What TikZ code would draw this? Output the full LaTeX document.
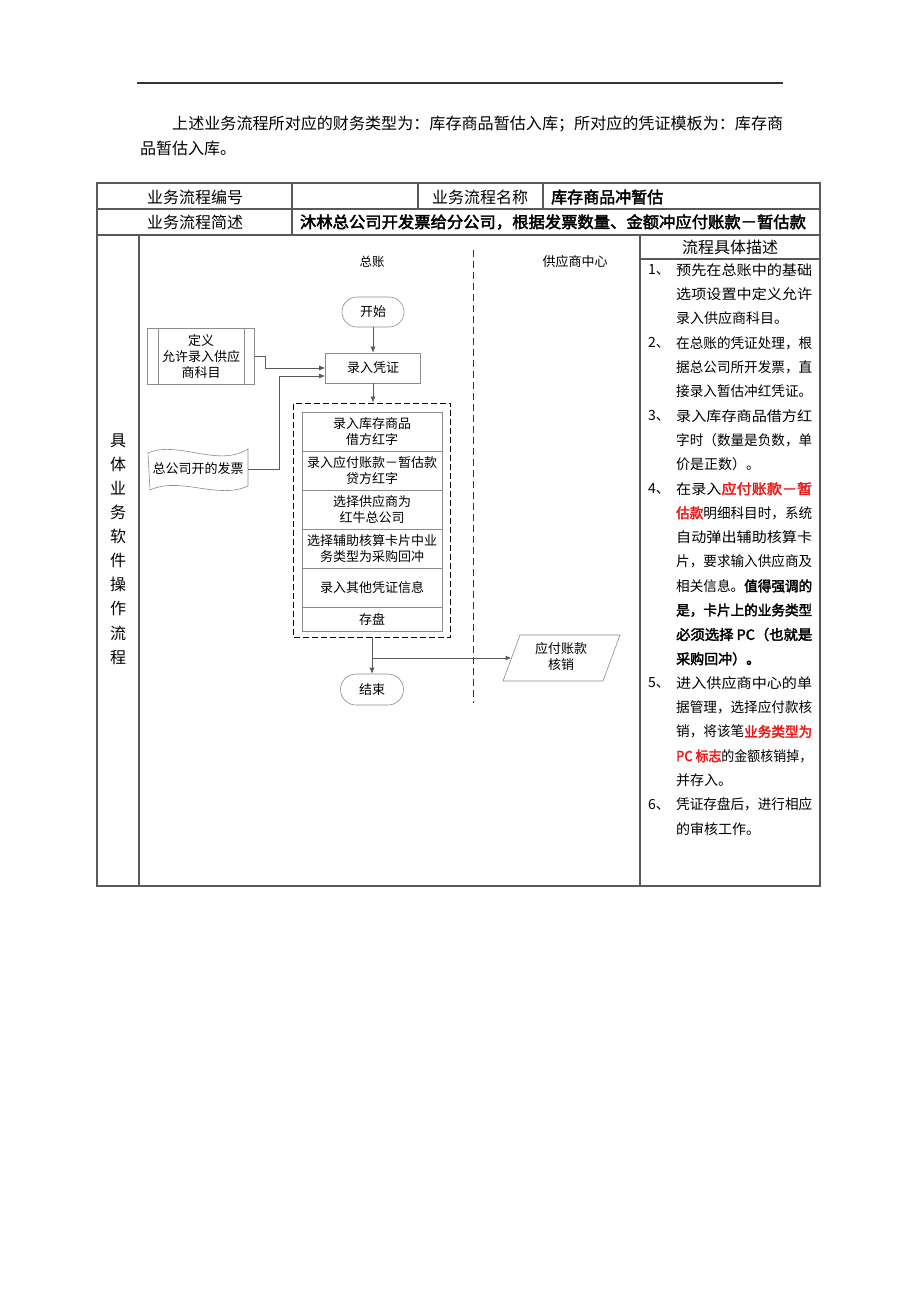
\documentclass[tikz,border=0pt]{standalone}
\usepackage{fontspec}
\usepackage{graphicx}
\setmainfont{Noto Sans CJK SC}[BoldFont={Noto Sans CJK SC},BoldFeatures={FakeBold=2.5}]
\usetikzlibrary{arrows.meta}
\definecolor{tline}{gray}{0.35}
\definecolor{shp}{gray}{0.55}
\definecolor{hired}{RGB}{235,25,25}
\newcommand\jl[1]{\resizebox{136pt}{\height}{#1}}
\newcommand\rb[1]{\textcolor{hired}{\bfseries #1}}
\begin{document}
\begin{tikzpicture}[x=1pt,y=-1pt,
  tbl/.style={draw=tline,line width=1.1pt},
  ttxt/.style={inner sep=0,font=\fontsize{16}{16}\selectfont},
  fshape/.style={draw=shp,line width=0.6pt,font=\fontsize{13}{16}\selectfont,align=center,inner sep=0},
  ftxt/.style={inner sep=0,font=\fontsize{13}{16}\selectfont,align=center},
  conn/.style={draw=tline,line width=0.7pt,-{Latex[length=6pt,width=5pt]}},
  desc/.style={anchor=west,inner sep=0,font=\fontsize{14}{14}\selectfont},
  num/.style={anchor=west,inner sep=0,font=\fontsize{14}{14}\selectfont}]
\fill[white] (0,0) rectangle (920,1302);
\useasboundingbox (0,0) rectangle (920,1302);
% top rule
\draw[line width=1.2pt,black!80] (137,83) -- (783,83);
\node[ttxt,anchor=west] (p1) at (172,124) {\resizebox{611pt}{\height}{上述业务流程所对应的财务类型为：库存商品暂估入库；所对应的凭证模板为：库存商}};
\node[ttxt,anchor=west] (p2) at (140,148) {品暂估入库。};
% table
\draw[tbl] (97,183) rectangle (820,886);
\draw[tbl] (97,209) -- (820,209);
\draw[tbl] (97,235) -- (820,235);
\draw[tbl] (292,183) -- (292,235);
\draw[tbl] (418,183) -- (418,209);
\draw[tbl] (543,183) -- (543,209);
\draw[tbl] (139,235) -- (139,886);
\draw[tbl] (640,235) -- (640,886);
\draw[tbl] (640,259) -- (820,259);
\node[ttxt] (r1a) at (195,197) {业务流程编号};
\node[ttxt] (r1b) at (480,197) {业务流程名称};
\node[ttxt,anchor=west] (r1c) at (551,197) {\bfseries 库存商品冲暂估};
\node[ttxt] (r2a) at (195,222) {业务流程简述};
\node[ttxt] (r2b) at (553,222) {\resizebox{506pt}{\height}{\bfseries 沐林总公司开发票给分公司，根据发票数量、金额冲应付账款－暂估款}};
\node[inner sep=0,font=\fontsize{16}{24.1}\selectfont,align=center] (side) at (118,549) {具\\体\\业\\务\\软\\件\\操\\作\\流\\程};
\node[ttxt] (hdr) at (730,247) {流程具体描述};
% lanes
\node[ftxt,font=\fontsize{12.5}{15}\selectfont] (lane1) at (372,262) {总账};
\node[ftxt] (lane2) at (575,262) {供应商中心};
\draw[black!80,line width=0.8pt,dash pattern=on 7pt off 4pt] (473,250) -- (473,703);
% shapes
\node[fshape,rounded corners=15pt,minimum width=62pt,minimum height=30pt] (start) at (373,312) {开始};
\node[fshape,minimum width=95pt,minimum height=30pt] (voucher) at (373,368) {录入凭证};
\node[fshape,minimum width=107pt,minimum height=56pt] (def) at (201,356) {定义\\允许录入供应\\商科目};
\draw[shp,line width=0.6pt] ([xshift=11pt]def.north west) -- ([xshift=11pt]def.south west);
\draw[shp,line width=0.6pt] ([xshift=-11pt]def.north east) -- ([xshift=-11pt]def.south east);
\node[ftxt,minimum width=100pt,minimum height=40pt] (inv) at (198,469) {总公司开的发票};
\draw[shp,line width=0.6pt] (148,453) .. controls (178,440) and (218,468) .. (248,449)
  -- (248,486) .. controls (218,500) and (180,476) .. (150,490) -- cycle;
\node[draw=black,line width=0.8pt,dash pattern=on 6pt off 3pt,minimum width=157pt,minimum height=234pt,inner sep=0] (grp) at (372,520) {};
\node[fshape,minimum width=140pt,minimum height=39pt] (b1) at (372,431.5) {录入库存商品\\借方红字};
\node[fshape,minimum width=140pt,minimum height=39pt] (b2) at (372,470.5) {录入应付账款－暂估款\\贷方红字};
\node[fshape,minimum width=140pt,minimum height=39pt] (b3) at (372,509.5) {选择供应商为\\红牛总公司};
\node[fshape,minimum width=140pt,minimum height=39pt] (b4) at (372,548.5) {选择辅助核算卡片中业\\务类型为采购回冲};
\node[fshape,minimum width=140pt,minimum height=39pt] (b5) at (372,587.5) {录入其他凭证信息};
\node[fshape,minimum width=140pt,minimum height=24pt] (b6) at (372,619) {存盘};
\node[fshape,rounded corners=15.5pt,minimum width=63pt,minimum height=31pt] (end) at (372,689.5) {结束};
\draw[shp,line width=0.6pt] (503,681) -- (520,635) -- (620,635) -- (603,681) -- cycle;
\node[ftxt] (pay) at (561,657) {应付账款\\核销};
\coordinate (payl) at (511.5,658);
% connectors
\draw[conn] (start) -- (voucher);
\draw[conn] (def.east) -- ++(11,0) |- (voucher.west);
\draw[conn,line width=1pt] (inv.east) -- (279,469) |- ([yshift=-8pt]voucher.west);
\draw[conn] (voucher.south) -- (voucher.south |- grp.north);
\draw[conn] (grp.south) -- (end.north);
\draw[conn,line width=1pt] (grp.south |- payl) -- (payl);
% description
\node[num] (n1) at (648,270) {1、};
\node[desc] (d1) at (676,270) {\jl{预先在总账中的基础}};
\node[desc] (d2) at (676,294.3) {\jl{选项设置中定义允许}};
\node[desc] (d3) at (676,318.6) {录入供应商科目。};
\node[num] (n2) at (648,342.9) {2、};
\node[desc] (d4) at (676,342.9) {\jl{在总账的凭证处理，根}};
\node[desc] (d5) at (676,367.2) {\jl{据总公司所开发票，直}};
\node[desc] (d6) at (676,391.5) {\jl{接录入暂估冲红凭证。}};
\node[num] (n3) at (648,415.8) {3、};
\node[desc] (d7) at (676,415.8) {\jl{录入库存商品借方红}};
\node[desc] (d8) at (676,440.1) {\jl{字时（数量是负数，单}};
\node[desc] (d9) at (676,464.4) {价是正数）。};
\node[num] (n4) at (648,488.7) {4、};
\node[desc] (d10) at (676,488.7) {\jl{在录入\rb{应付账款－暂}}};
\node[desc] (d11) at (676,513) {\jl{\rb{估款}明细科目时，系统}};
\node[desc] (d12) at (676,537.3) {\jl{自动弹出辅助核算卡}};
\node[desc] (d13) at (676,561.6) {\jl{片，要求输入供应商及}};
\node[desc] (d14) at (676,585.9) {\jl{相关信息。\textbf{值得强调的}}};
\node[desc] (d15) at (676,610.2) {\jl{\bfseries 是，卡片上的业务类型}};
\node[desc] (d16) at (676,634.5) {\jl{\bfseries 必须选择 PC（也就是}};
\node[desc] (d17) at (676,658.8) {\bfseries 采购回冲）。};
\node[num] (n5) at (648,683.1) {5、};
\node[desc] (d18) at (676,683.1) {\jl{进入供应商中心的单}};
\node[desc] (d19) at (676,707.4) {\jl{据管理，选择应付款核}};
\node[desc] (d20) at (676,731.7) {\jl{销，将该笔\rb{业务类型为}}};
\node[desc] (d21) at (676,756) {\jl{\rb{PC 标志}的金额核销掉，}};
\node[desc] (d22) at (676,780.3) {并存入。};
\node[num] (n6) at (648,804.6) {6、};
\node[desc] (d23) at (676,804.6) {\jl{凭证存盘后，进行相应}};
\node[desc] (d24) at (676,828.9) {的审核工作。};
\end{tikzpicture}
\end{document}
